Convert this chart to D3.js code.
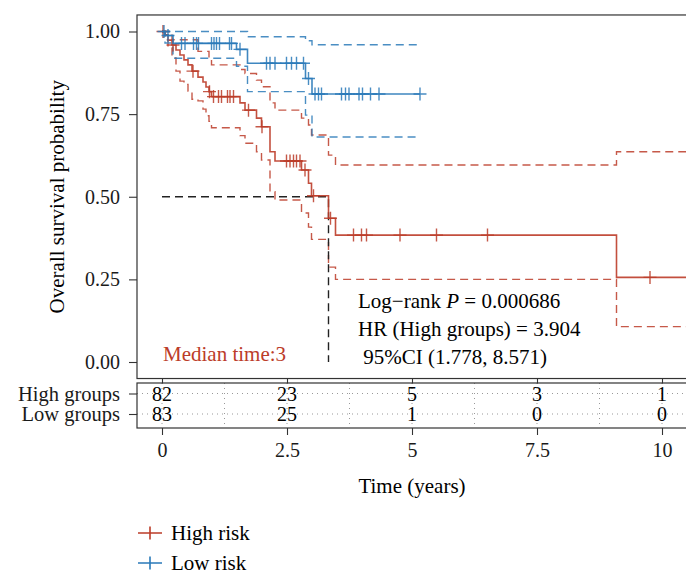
<!DOCTYPE html>
<html>
<head>
<meta charset="utf-8">
<style>
  body { margin: 0; background: white; }
  svg { display: block; font-family: 'Liberation Serif', 'Times New Roman', serif; }
  .axis text { font-family: 'Liberation Serif', 'Times New Roman', serif; font-size: 20px; fill: #1a1a1a; }
  .axis line { stroke: #333; stroke-width: 1.1; }
</style>
</head>
<body>
<svg id="km" width="686" height="576"></svg>
<script src="https://d3js.org/d3.v7.min.js"></script>
<script>
// ---- data ----
// high risk group: step change times (years) and survival after each step
const highT     = [0, 0.06, 0.12, 0.2, 0.28, 0.36, 0.44, 0.52, 0.6, 0.72, 0.82, 0.88, 0.94, 0.99, 1.56, 1.66, 1.89, 1.99, 2.16, 2.26, 2.79, 2.93, 2.99, 3.33, 3.47, 9.09]
const highS     = [1, 0.990, 0.974, 0.959, 0.944, 0.929, 0.914, 0.899, 0.880, 0.862, 0.847, 0.832, 0.818, 0.803, 0.784, 0.762, 0.738, 0.712, 0.636, 0.608, 0.581, 0.541, 0.503, 0.435, 0.384, 0.256]
const highUpper = [1, 1, 1, 0.975, 0.975, 0.975, 0.975, 0.975, 0.975, 0.94, 0.94, 0.94, 0.92, 0.899, 0.885, 0.873, 0.853, 0.833, 0.784, 0.762, 0.738, 0.717, 0.687, 0.626, 0.596, 0.636]
const highLower = [1, 0.975, 0.95, 0.92, 0.88, 0.85, 0.84, 0.82, 0.795, 0.79, 0.765, 0.745, 0.728, 0.709, 0.685, 0.662, 0.636, 0.611, 0.515, 0.49, 0.451, 0.408, 0.371, 0.287, 0.25, 0.107]
const highEnd = 10.5
const highCensor = [0.02, 0.22, 0.62, 0.95, 1.03, 1.13, 1.19, 1.31, 1.36, 1.43, 1.73, 2.0, 2.49, 2.56, 2.63, 2.69, 2.76, 2.86, 3.03, 3.37, 3.83, 3.99, 4.09, 4.76, 5.49, 6.51, 9.76]

// low risk group
const lowT     = [0, 0.06, 0.22, 1.49, 1.71, 2.87, 3.0]
const lowS     = [1, 0.988, 0.964, 0.946, 0.904, 0.858, 0.811]
const lowUpper = [1, 1, 1, 1, 0.984, 0.972, 0.96]
const lowLower = [1, 0.965, 0.919, 0.895, 0.818, 0.747, 0.681]
const lowEnd = 5.16
const lowCensor = [0.04, 0.12, 0.39, 0.46, 0.63, 0.69, 0.73, 0.99, 1.04, 1.09, 1.15, 1.35, 1.39, 1.56, 2.09, 2.16, 2.26, 2.49, 2.59, 2.69, 2.83, 2.93, 3.06, 3.13, 3.19, 3.59, 3.67, 3.74, 3.94, 4.01, 4.17, 4.34, 5.16]

const medianTime = 3.33

// risk table
const riskBreaks = [0, 2.5, 5, 7.5, 10]
const riskGroups = ["High groups", "Low groups"]
const riskHigh = [82, 23, 5, 3, 1]
const riskLow  = [83, 25, 1, 0, 0]

const yTicks = [0, 0.25, 0.5, 0.75, 1]
const statLines = ["HR (High groups) = 3.904", " 95%CI (1.778, 8.571)"]
const legendLabels = ["High risk", "Low risk"]

const red = "#BC3C29", blue = "#2A7AB9"

// ---- layout ----
let svg = d3.select("#km")
let x = d3.scaleLinear().domain([0, 10]).range([162, 662])
let y = d3.scaleLinear().domain([0, 1]).range([362, 31.5])
let panel = { left: x(-0.5), right: x(10.5), top: y(1.05), bottom: y(-0.05) }

svg.append("clipPath").attr("id", "clip")
  .append("rect")
  .attr("x", panel.left).attr("y", panel.top)
  .attr("width", panel.right - panel.left).attr("height", panel.bottom - panel.top)

// y axis
svg.append("g")
  .attr("class", "axis")
  .attr("transform", `translate(${panel.left},0)`)
  .call(d3.axisLeft(y).tickValues(yTicks).tickFormat(d3.format(".2f")).tickSize(8).tickPadding(9).tickSizeOuter(0))
  .call(g => g.select(".domain").remove())

// x ticks under the plot panel (no labels)
svg.append("g")
  .attr("class", "axis")
  .attr("transform", `translate(0,${panel.bottom})`)
  .call(d3.axisBottom(x).tickValues(riskBreaks).tickSize(5).tickFormat(""))
  .call(g => g.select(".domain").remove())

svg.append("text")
  .attr("transform", `translate(64,${(panel.top + panel.bottom) / 2}) rotate(-90)`)
  .attr("text-anchor", "middle")
  .style("font-size", "21px")
  .text("Overall survival probability")

let plot = svg.append("g").attr("clip-path", "url(#clip)")

function stepPoints(ts, ss, end) {
  let pts = ts.map((t, i) => [t, ss[i]])
  pts.push([end, ss[ss.length - 1]])
  return pts
}
function survAt(ts, ss, t) {
  return ss[d3.bisectRight(ts, t) - 1]
}

let line = d3.line()
  .x(d => x(d[0]))
  .y(d => y(d[1]))
  .curve(d3.curveStepAfter)

let groups = [
  { color: red, t: highT, s: highS, up: highUpper, lo: highLower, end: highEnd, cens: highCensor },
  { color: blue, t: lowT, s: lowS, up: lowUpper, lo: lowLower, end: lowEnd, cens: lowCensor }
]

groups.forEach(gr => {
  // confidence bands
  ;[gr.up, gr.lo].forEach(band => {
    plot.append("path")
      .attr("d", line(stepPoints(gr.t, band, gr.end)))
      .style("fill", "none")
      .style("stroke", gr.color)
      .style("stroke-width", 1.4)
      .style("stroke-dasharray", "8,5")
      .style("opacity", 0.85)
  })
})

// median line
plot.append("path")
  .attr("d", d3.line()([[x(0), y(0.5)], [x(medianTime), y(0.5)], [x(medianTime), y(0)]]))
  .style("fill", "none")
  .style("stroke", "#222")
  .style("stroke-width", 1.4)
  .style("stroke-dasharray", "8,5")

groups.forEach(gr => {
  plot.append("path")
    .attr("d", line(stepPoints(gr.t, gr.s, gr.end)))
    .style("fill", "none")
    .style("stroke", gr.color)
    .style("stroke-width", 1.6)
    .style("opacity", 0.9)

  plot.append("g")
    .selectAll("path")
    .data(gr.cens)
    .join("path")
    .attr("d", t => {
      let cx = x(t), cy = y(survAt(gr.t, gr.s, t))
      return `M${cx - 6.5},${cy}H${cx + 6.5}M${cx},${cy - 6.5}V${cy + 6.5}`
    })
    .style("stroke", gr.color)
    .style("stroke-width", 1.4)
    .style("opacity", 0.85)
})

// panel border
svg.append("rect")
  .attr("x", panel.left).attr("y", panel.top)
  .attr("width", panel.right - panel.left).attr("height", panel.bottom - panel.top)
  .style("fill", "none").style("stroke", "#333").style("stroke-width", 1.2)

// annotations
svg.append("text")
  .attr("x", 163).attr("y", 361)
  .style("font-size", "21px").style("fill", red)
  .text("Median time:3")

let pLine = svg.append("text").attr("x", 358).attr("y", 308).style("font-size", "21px")
pLine.append("tspan").text("Log\u2212rank ")
pLine.append("tspan").style("font-style", "italic").text("P")
pLine.append("tspan").text(" = 0.000686")

svg.selectAll(".stat")
  .data(statLines)
  .join("text")
  .attr("class", "stat")
  .attr("x", 358)
  .attr("y", (d, i) => 336 + i * 27.5)
  .style("font-size", "21px")
  .style("white-space", "pre")
  .text(d => d)

// ---- risk table ----
let tTop = 383, tBottom = 428
let ty = d3.scalePoint().domain(riskGroups).range([393.5, 414])

let grid = svg.append("g").style("stroke", "#999").style("stroke-width", 1).style("stroke-dasharray", "1,4")
d3.range(0, 10.01, 1.25).forEach(t => {
  grid.append("line").attr("x1", x(t)).attr("x2", x(t)).attr("y1", tTop).attr("y2", tBottom)
})
riskGroups.forEach(g => {
  grid.append("line").attr("x1", panel.left).attr("x2", panel.right).attr("y1", ty(g)).attr("y2", ty(g))
})

svg.append("g")
  .attr("class", "axis")
  .attr("transform", `translate(${panel.left},0)`)
  .call(d3.axisLeft(ty).tickSize(8).tickPadding(9).tickSizeOuter(0))
  .call(g => g.select(".domain").remove())
  .call(g => g.selectAll("text").style("font-size", "20.5px"))

;[riskHigh, riskLow].forEach((vals, gi) => {
  svg.append("g").selectAll("text")
    .data(vals)
    .join("text")
    .attr("x", (d, i) => x(riskBreaks[i]))
    .attr("y", ty(riskGroups[gi]))
    .attr("dy", "0.35em")
    .attr("text-anchor", "middle")
    .style("font-size", "20px")
    .text(d => d)
})

svg.append("rect")
  .attr("x", panel.left).attr("y", tTop)
  .attr("width", panel.right - panel.left).attr("height", tBottom - tTop)
  .style("fill", "none").style("stroke", "#333").style("stroke-width", 1.2)

svg.append("g")
  .attr("class", "axis")
  .attr("transform", `translate(0,${tBottom})`)
  .call(d3.axisBottom(x).tickValues(riskBreaks).tickSize(7).tickPadding(8).tickFormat(d3.format("")))
  .call(g => g.select(".domain").remove())

svg.append("text")
  .attr("x", x(5)).attr("y", 493)
  .attr("text-anchor", "middle")
  .style("font-size", "21px")
  .text("Time (years)")

// ---- legend ----
let legend = svg.append("g")
legendLabels.forEach((lab, i) => {
  let ly = 533 + i * 30
  let col = i == 0 ? red : blue
  legend.append("path")
    .attr("d", `M138,${ly}H162M150,${ly - 6.5}V${ly + 6.5}`)
    .style("stroke", col).style("stroke-width", 1.6).style("fill", "none")
  legend.append("text")
    .attr("x", 171).attr("y", ly).attr("dy", "0.35em")
    .style("font-size", "21px")
    .text(lab)
})
</script>
</body>
</html>
